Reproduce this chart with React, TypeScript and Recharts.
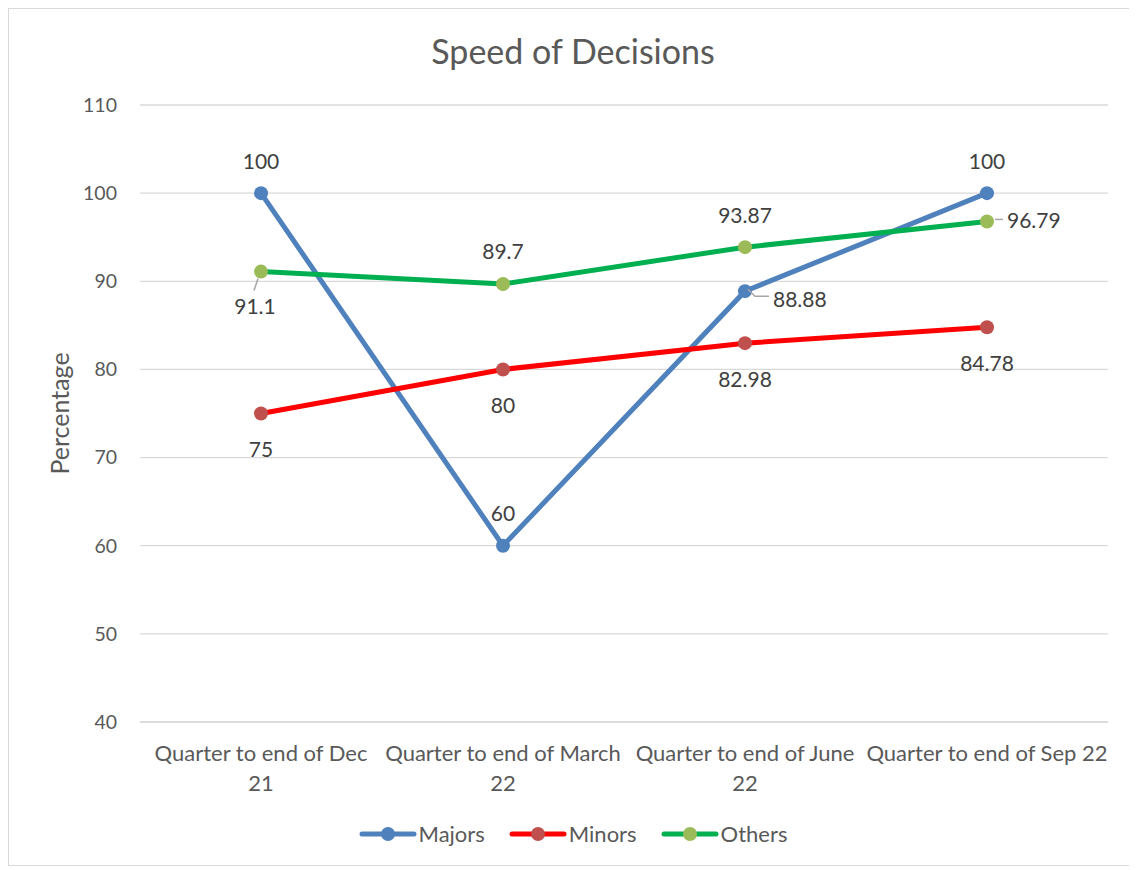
import { LineChart, Line, XAxis, YAxis, CartesianGrid } from "recharts";

const quarters = [
  "Quarter to end of Dec 21",
  "Quarter to end of March 22",
  "Quarter to end of June 22",
  "Quarter to end of Sep 22",
];
// how each category label wraps under the axis
const quarterLines = [
  ["Quarter to end of Dec", "21"],
  ["Quarter to end of March", "22"],
  ["Quarter to end of June", "22"],
  ["Quarter to end of Sep 22"],
];
const majors = [100, 60, 88.88, 100];
const minors = [75, 80, 82.98, 84.78];
const others = [91.1, 89.7, 93.87, 96.79];
const yTicks = [40, 50, 60, 70, 80, 90, 100, 110];

// where each data label sits relative to its point
const majorsLabelPos = ["above", "above", "right", "above"];
const minorsLabelPos = ["below", "below", "below", "below"];
const othersLabelPos = ["belowLeft", "above", "above", "right"];

const data = quarters.map((q, i) => ({
  quarter: q,
  Majors: majors[i],
  Minors: minors[i],
  Others: others[i],
}));

const FONT = "Lato, 'Liberation Sans', sans-serif";
const TEXT = "#595959";
const LABEL = "#404040";

const series = [
  { key: "Majors", line: "#4F81BD", dot: "#4F81BD", pos: majorsLabelPos },
  { key: "Minors", line: "#FF0000", dot: "#C0504D", pos: minorsLabelPos },
  { key: "Others", line: "#00B050", dot: "#9BBB59", pos: othersLabelPos },
];

function makeLabel(pos: string[]) {
  return (props: any) => {
    const { x, y, value, index } = props;
    const p = pos[index];
    const style = { fontFamily: FONT, fontSize: 21, fill: LABEL };
    if (p === "above")
      return (
        <text x={x} y={y - 33} textAnchor="middle" dominantBaseline="central" style={style}>
          {value}
        </text>
      );
    if (p === "below")
      return (
        <text x={x} y={y + 35} textAnchor="middle" dominantBaseline="central" style={style}>
          {value}
        </text>
      );
    if (p === "belowLeft")
      return (
        <g>
          <line x1={x - 3} y1={y + 7} x2={x - 7} y2={y + 19} stroke="#A6A6A6" strokeWidth={1.5} />
          <text x={x - 6} y={y + 34} textAnchor="middle" dominantBaseline="central" style={style}>
            {value}
          </text>
        </g>
      );
    // right
    const isLong = index === 2;
    return (
      <g>
        {isLong ? (
          <polyline
            points={`${x + 3},${y - 2} ${x + 10},${y + 5} ${x + 24},${y + 5}`}
            fill="none"
            stroke="#A6A6A6"
            strokeWidth={1.5}
          />
        ) : (
          <line x1={x + 8} y1={y - 2} x2={x + 16} y2={y - 2} stroke="#A6A6A6" strokeWidth={1.5} />
        )}
        <text
          x={x + (isLong ? 28 : 20)}
          y={y + (isLong ? 7 : -2)}
          textAnchor="start"
          dominantBaseline="central"
          style={style}
        >
          {value}
        </text>
      </g>
    );
  };
}

function XTick(props: any) {
  const { x, y, index } = props;
  const lines = quarterLines[index] || [];
  const st = { fontFamily: FONT, fontSize: 22, fill: TEXT };
  return (
    <g>
      {lines.map((l, i) => (
        <text key={i} x={x} y={y + 22 + i * 30} textAnchor="middle" dominantBaseline="central" style={st}>
          {l}
        </text>
      ))}
    </g>
  );
}

export default function App() {
  return (
    <div
      style={{
        position: "relative",
        width: 1120,
        height: 856,
        border: "1px solid #D9D9D9",
        background: "#fff",
        fontFamily: FONT,
      }}
    >
      <div
        style={{
          position: "absolute",
          top: 21,
          left: 0,
          width: 1128,
          textAlign: "center",
          fontSize: 34,
          color: TEXT,
        }}
      >
        Speed of Decisions
      </div>
      <LineChart width={1120} height={856} data={data} margin={{ top: 96, right: 21, bottom: 83, left: 0 }}>
        <CartesianGrid vertical={false} stroke="#D9D9D9" strokeWidth={1.3} />
        <XAxis
          dataKey="quarter"
          axisLine={{ stroke: "#D9D9D9", strokeWidth: 1.3 }}
          tickLine={false}
          padding={{ left: 121, right: 121 }}
          height={60}
          tick={<XTick />}
          interval={0}
        />
        <YAxis
          domain={[40, 110]}
          ticks={yTicks}
          width={131}
          axisLine={false}
          tickLine={false}
          tickSize={0}
          tickMargin={23}
          tick={{ fontFamily: FONT, fontSize: 19.5, fill: TEXT }}
          label={{
            value: "Percentage",
            angle: -90,
            position: "insideLeft",
            offset: 51,
            style: { fontFamily: FONT, fontSize: 25, fill: TEXT, textAnchor: "middle" },
          }}
        />
        {series.map((s) => (
          <Line
            key={s.key}
            type="linear"
            dataKey={s.key}
            stroke={s.line}
            strokeWidth={5}
            dot={{ r: 7, fill: s.dot, stroke: s.dot, strokeWidth: 0 }}
            activeDot={false}
            isAnimationActive={false}
            label={makeLabel(s.pos)}
          />
        ))}
      </LineChart>
      <div
        style={{
          position: "absolute",
          top: 811,
          left: 0,
          width: 1128,
          display: "flex",
          justifyContent: "center",
          gap: 24,
          fontSize: 22,
          color: TEXT,
        }}
      >
        {series.map((s) => (
          <div key={s.key} style={{ display: "flex", alignItems: "center" }}>
            <svg width={58} height={20}>
              <line x1={3} y1={10} x2={55} y2={10} stroke={s.line} strokeWidth={5} strokeLinecap="round" />
              <circle cx={29} cy={10} r={7} fill={s.dot} />
            </svg>
            <span style={{ marginLeft: 2 }}>{s.key}</span>
          </div>
        ))}
      </div>
    </div>
  );
}
